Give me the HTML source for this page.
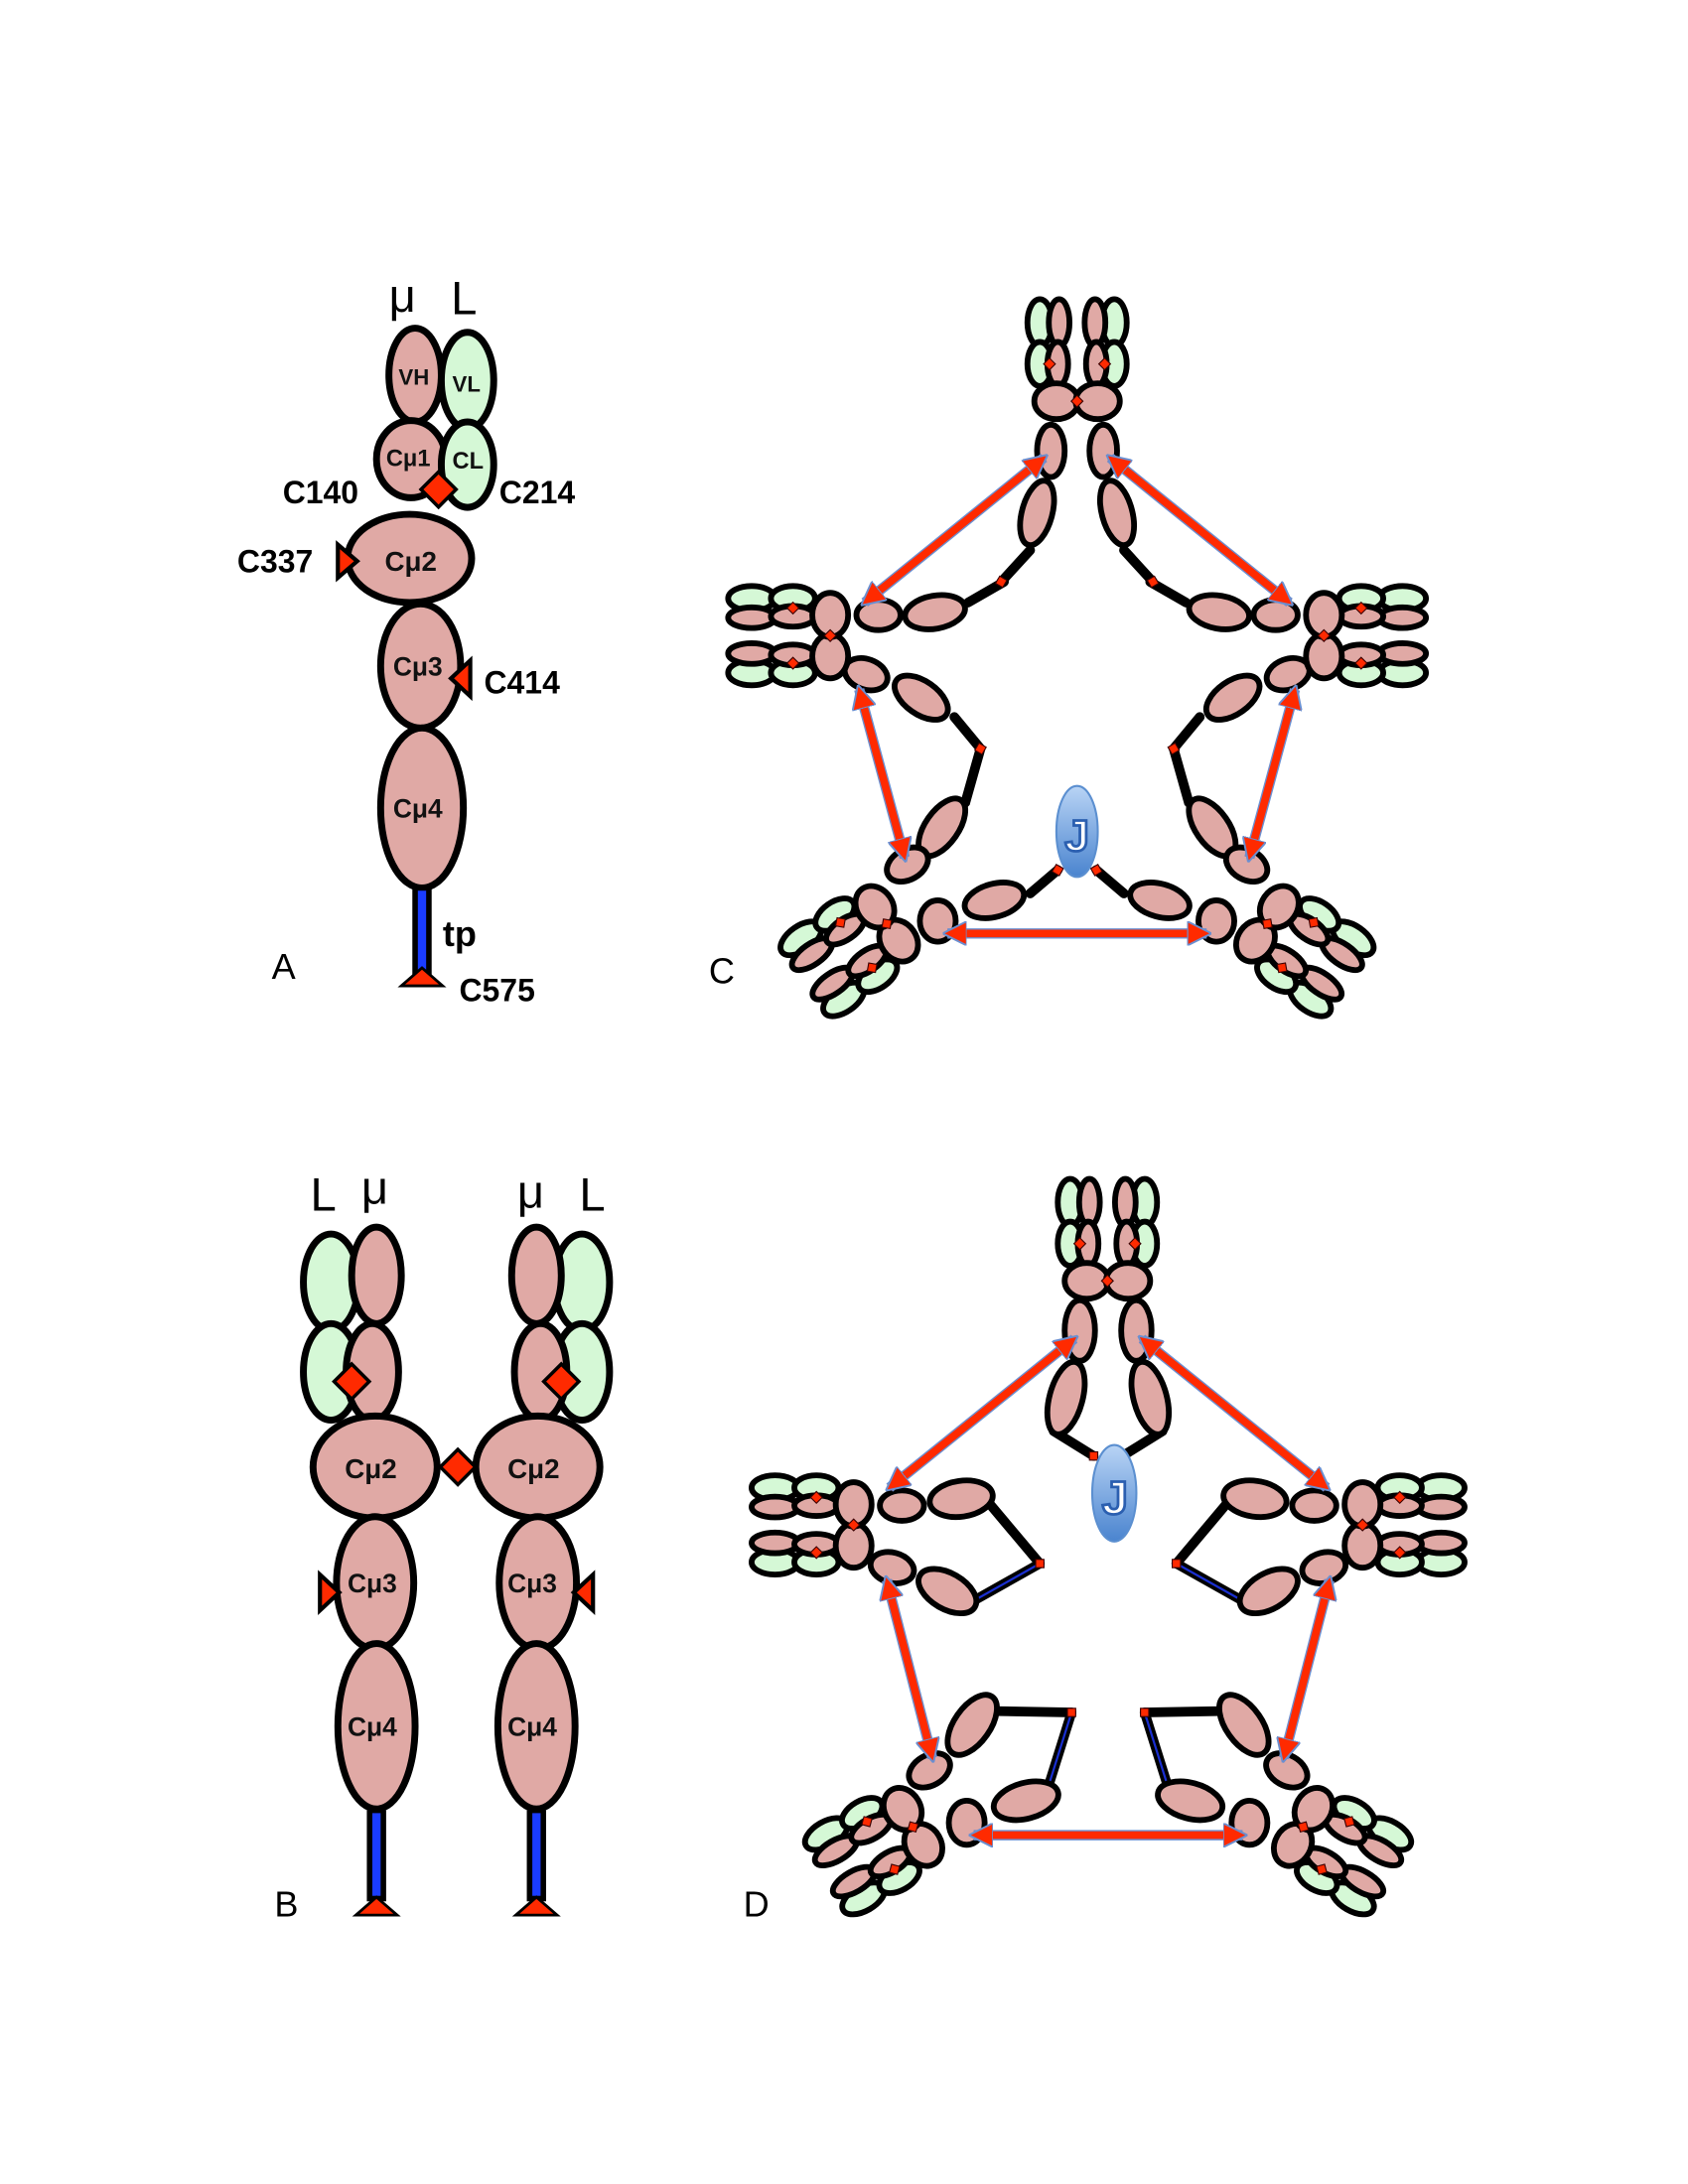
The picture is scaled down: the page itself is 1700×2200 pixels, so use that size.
<!DOCTYPE html>
<html><head><meta charset="utf-8"><style>
html,body{margin:0;padding:0;background:#fff}
svg{display:block}
.p{fill:#e0a9a5;stroke:#000;stroke-width:5}
.g{fill:#d5f8d6;stroke:#000;stroke-width:5}
.q{fill:#e0a9a5;stroke:#000;stroke-width:4.2}
.h{fill:#d5f8d6;stroke:#000;stroke-width:4.2}
.t{stroke:#000;stroke-width:7;fill:none;stroke-linecap:round}
.b{stroke:#1a2fd0;stroke-width:1.6;fill:none}
.r{fill:#ff2a00;stroke:#3a0000;stroke-width:0.8}
.lab{font-family:"Liberation Sans",sans-serif;font-weight:bold;font-size:23px;fill:#000}
.big{font-family:"Liberation Sans",sans-serif;font-size:34px;fill:#000}
.pl{font-family:"Liberation Sans",sans-serif;font-size:26px;fill:#000}
.dom{font-family:"Liberation Sans",sans-serif;font-weight:bold;font-size:18px;fill:#111}
.arw{stroke:#ff2a00;stroke-width:5.5;fill:none}
.arb{stroke:#6b8fd0;stroke-width:7.5;fill:none}
</style></head><body>
<svg width="1700" height="2200" viewBox="0 0 1224 1584" xmlns="http://www.w3.org/2000/svg">
<defs>
<linearGradient id="jg" x1="0" y1="0" x2="0" y2="1">
<stop offset="0" stop-color="#b9d4f5"/><stop offset="1" stop-color="#4a84cf"/></linearGradient>
<marker id="ah" viewBox="0 0 10 10" refX="8" refY="5" markerWidth="3.2" markerHeight="3.2" orient="auto-start-reverse">
<path d="M0,0 L10,5 L0,10 z" fill="#ff2a00" stroke="#6b8fd0" stroke-width="0.8"/></marker>
<g id="vtx">
<ellipse class="h" cx="-27" cy="-57" rx="9" ry="17"/>
<ellipse class="q" cx="-13" cy="-57" rx="7.5" ry="17"/>
<ellipse class="h" cx="-27" cy="-27" rx="9" ry="16"/>
<ellipse class="q" cx="-14" cy="-27" rx="7.5" ry="16"/>
<rect class="r" x="-23" y="-30" width="6" height="6" transform="rotate(45 -20 -27)"/>
<ellipse class="h" cx="27" cy="-57" rx="9" ry="17"/>
<ellipse class="q" cx="13" cy="-57" rx="7.5" ry="17"/>
<ellipse class="h" cx="27" cy="-27" rx="9" ry="16"/>
<ellipse class="q" cx="14" cy="-27" rx="7.5" ry="16"/>
<rect class="r" x="17" y="-30" width="6" height="6" transform="rotate(45 20 -27)"/>
<ellipse class="q" cx="-15" cy="0" rx="16" ry="13"/>
<ellipse class="q" cx="15" cy="0" rx="16" ry="13"/>
<rect class="r" x="-3" y="-3" width="6" height="6" transform="rotate(45 0 0)"/>
</g>
</defs>

<!-- Panel A -->
<text class="big" x="282" y="226">μ</text>
<text class="big" x="327" y="228">L</text>
<ellipse class="p" cx="301" cy="272" rx="19" ry="34"/>
<ellipse class="g" cx="339" cy="276" rx="19" ry="35"/>
<text class="dom" x="289" y="279" style="font-size:16px">VH</text>
<text class="dom" x="328" y="284" style="font-size:16px">VL</text>
<ellipse class="p" cx="298" cy="333" rx="25" ry="28"/>
<ellipse class="g" cx="339" cy="337" rx="19" ry="31"/>
<text class="dom" x="280" y="338" style="font-size:17px">Cμ1</text>
<text class="dom" x="328" y="340" style="font-size:17px">CL</text>
<rect x="309" y="346" width="18" height="18" fill="#ff2a00" stroke="#000" stroke-width="2.5" transform="rotate(45 318 355)"/>
<text class="lab" x="205" y="365">C140</text>
<text class="lab" x="362" y="365">C214</text>
<ellipse class="p" cx="297" cy="405" rx="45" ry="32"/>
<text class="dom" x="279" y="414" style="font-size:20px">Cμ2</text>
<polygon points="245,395 259,407 245,419" fill="#ff2a00" stroke="#000" stroke-width="3"/>
<text class="lab" x="172" y="415">C337</text>
<ellipse class="p" cx="305" cy="483" rx="29" ry="45"/>
<text class="dom" x="285" y="490" style="font-size:19px">Cμ3</text>
<polygon points="341,479 327,492 341,505" fill="#ff2a00" stroke="#000" stroke-width="3"/>
<text class="lab" x="351" y="503">C414</text>
<ellipse class="p" cx="306" cy="586" rx="30" ry="58"/>
<text class="dom" x="285" y="593" style="font-size:19px">Cμ4</text>
<rect x="299" y="644" width="14" height="64" fill="#000"/>
<rect x="303" y="646" width="6" height="58" fill="#1a3cff"/>
<polygon points="291,715 306,702 321,715" fill="#ff2a00" stroke="#000" stroke-width="2"/>
<text class="lab" x="321" y="686" style="font-size:26px">tp</text>
<text class="lab" x="333" y="726">C575</text>
<text class="pl" x="197" y="710">A</text>

<!-- Panel B -->
<text class="big" x="225" y="878">L</text>
<text class="big" x="262" y="873">μ</text>
<text class="big" x="375" y="876">μ</text>
<text class="big" x="420" y="878">L</text>
<g id="bl">
<ellipse class="g" cx="240" cy="930" rx="20" ry="35"/>
<ellipse class="p" cx="273" cy="925" rx="18" ry="35"/>
<ellipse class="g" cx="240" cy="995" rx="20" ry="35"/>
<ellipse class="p" cx="270" cy="995" rx="19" ry="35"/>
<rect x="246" y="993" width="18" height="18" fill="#ff2a00" stroke="#000" stroke-width="2.5" transform="rotate(45 255 1002)"/>
<ellipse class="p" cx="272" cy="1064" rx="45" ry="37"/>
<ellipse class="p" cx="272" cy="1148" rx="28" ry="48"/>
<polygon points="232,1142 246,1155 232,1168" fill="#ff2a00" stroke="#000" stroke-width="3"/>
<ellipse class="p" cx="273" cy="1252" rx="28" ry="60"/>
<rect x="266" y="1313" width="14" height="66" fill="#000"/>
<rect x="270" y="1315" width="6" height="60" fill="#1a3cff"/>
<polygon points="258,1389 273,1376 288,1389" fill="#ff2a00" stroke="#000" stroke-width="2"/>
</g>
<use href="#bl" transform="translate(662,0) scale(-1,1)"/>
<rect x="323" y="1055" width="18" height="18" fill="#ff2a00" stroke="#000" stroke-width="2.5" transform="rotate(45 332 1064)"/>
<text class="dom" x="250" y="1072" style="font-size:20px">Cμ2</text>
<text class="dom" x="368" y="1072" style="font-size:20px">Cμ2</text>
<text class="dom" x="252" y="1155" style="font-size:19px">Cμ3</text>
<text class="dom" x="368" y="1155" style="font-size:19px">Cμ3</text>
<text class="dom" x="252" y="1259" style="font-size:19px">Cμ4</text>
<text class="dom" x="368" y="1259" style="font-size:19px">Cμ4</text>
<text class="pl" x="199" y="1390">B</text>

<!-- Panel C -->
<g id="cL">
<line class="t" x1="747" y1="399" x2="726" y2="422"/>
<line class="t" x1="702" y1="437" x2="728" y2="422"/>
<polyline class="t" points="692,520 711,543 700,582 690,592"/>
<line class="t" x1="747" y1="648" x2="767" y2="631"/>
<ellipse class="q" cx="762" cy="327" rx="10" ry="19"/>
<ellipse class="q" cx="752" cy="372" rx="11" ry="24" transform="rotate(15 752 372)"/>
<ellipse class="q" cx="637" cy="446" rx="16" ry="11"/>
<ellipse class="q" cx="678" cy="444" rx="22" ry="12" transform="rotate(-10 678 444)"/>
<ellipse class="q" cx="628" cy="489" rx="16" ry="11" transform="rotate(20 628 489)"/>
<ellipse class="q" cx="668" cy="506" rx="22" ry="12" transform="rotate(35 668 506)"/>
<ellipse class="q" cx="683" cy="600" rx="12" ry="24" transform="rotate(35 683 600)"/>
<ellipse class="q" cx="658" cy="627" rx="16" ry="11" transform="rotate(-30 658 627)"/>
<ellipse class="q" cx="721" cy="653" rx="22" ry="12" transform="rotate(-15 721 653)"/>
<ellipse class="q" cx="680" cy="668" rx="13" ry="15"/>
<use href="#vtx" transform="translate(602,461) rotate(-90)"/>
<use href="#vtx" transform="translate(643,670) rotate(-125)"/>
<rect class="r" x="723" y="419" width="6" height="6" transform="rotate(30 726 422)"/>
<rect class="r" x="708" y="540" width="6" height="6" transform="rotate(30 711 543)"/>
<rect class="r" x="764" y="628" width="6" height="6" transform="rotate(30 767 631)"/>
<line class="arb" x1="757" y1="332" x2="627" y2="437"/>
<line class="arw" x1="757" y1="332" x2="627" y2="437" marker-start="url(#ah)" marker-end="url(#ah)"/>
<line class="arb" x1="623" y1="500" x2="656" y2="622"/>
<line class="arw" x1="623" y1="500" x2="656" y2="622" marker-start="url(#ah)" marker-end="url(#ah)"/>
</g>
<use href="#cL" transform="translate(1562,0) scale(-1,1)"/>
<use href="#vtx" transform="translate(781,291)"/>
<line class="arb" x1="687" y1="677" x2="875" y2="677"/>
<line class="arw" x1="687" y1="677" x2="875" y2="677" marker-start="url(#ah)" marker-end="url(#ah)"/>
<ellipse cx="781" cy="603" rx="15" ry="33" fill="url(#jg)" stroke="#5b8fd0" stroke-width="1.5"/>
<text x="772" y="617" style="font-family:'Liberation Sans',sans-serif;font-weight:bold;font-size:32px;fill:#fff;stroke:#2b5fb0;stroke-width:2">J</text>
<text class="pl" x="514" y="713">C</text>

<!-- Panel D -->
<g id="dL">
<line class="t" x1="764" y1="1038" x2="793" y2="1056"/>
<line class="t" x1="717" y1="1090" x2="754" y2="1134"/>
<line class="t" x1="754" y1="1134" x2="706" y2="1161"/>
<line class="b" x1="754" y1="1134" x2="706" y2="1161"/>
<line class="t" x1="721" y1="1241" x2="777" y2="1242"/>
<line class="t" x1="777" y1="1242" x2="761" y2="1293"/>
<line class="b" x1="777" y1="1242" x2="761" y2="1293"/>
<ellipse class="q" cx="783" cy="965" rx="11" ry="22"/>
<ellipse class="q" cx="773" cy="1014" rx="12" ry="27" transform="rotate(15 773 1014)"/>
<ellipse class="q" cx="654" cy="1092" rx="16" ry="11"/>
<ellipse class="q" cx="697" cy="1087" rx="23" ry="13" transform="rotate(-8 697 1087)"/>
<ellipse class="q" cx="647" cy="1137" rx="16" ry="11" transform="rotate(15 647 1137)"/>
<ellipse class="q" cx="687" cy="1154" rx="23" ry="13" transform="rotate(30 687 1154)"/>
<ellipse class="q" cx="705" cy="1251" rx="13" ry="25" transform="rotate(35 705 1251)"/>
<ellipse class="q" cx="674" cy="1284" rx="16" ry="11" transform="rotate(-30 674 1284)"/>
<ellipse class="q" cx="744" cy="1306" rx="24" ry="13" transform="rotate(-15 744 1306)"/>
<ellipse class="q" cx="701" cy="1322" rx="13" ry="16"/>
<use href="#vtx" transform="translate(619,1106) rotate(-90)"/>
<use href="#vtx" transform="translate(662,1325) rotate(-120)"/>
<rect class="r" x="790" y="1053" width="6" height="6"/>
<rect class="r" x="751" y="1131" width="6" height="6"/>
<rect class="r" x="774" y="1239" width="6" height="6"/>
<line class="arb" x1="779" y1="971" x2="645" y2="1079"/>
<line class="arw" x1="779" y1="971" x2="645" y2="1079" marker-start="url(#ah)" marker-end="url(#ah)"/>
<line class="arb" x1="643" y1="1146" x2="676" y2="1275"/>
<line class="arw" x1="643" y1="1146" x2="676" y2="1275" marker-start="url(#ah)" marker-end="url(#ah)"/>
</g>
<use href="#dL" transform="translate(1607,0) scale(-1,1)"/>
<use href="#vtx" transform="translate(803,929)"/>
<line class="arb" x1="706" y1="1331" x2="901" y2="1331"/>
<line class="arw" x1="706" y1="1331" x2="901" y2="1331" marker-start="url(#ah)" marker-end="url(#ah)"/>
<ellipse cx="808" cy="1083" rx="16" ry="35" fill="url(#jg)" stroke="#5b8fd0" stroke-width="1.5"/>
<text x="799" y="1098" style="font-family:'Liberation Sans',sans-serif;font-weight:bold;font-size:34px;fill:#fff;stroke:#2b5fb0;stroke-width:2">J</text>
<text class="pl" x="539" y="1390">D</text>
</svg>
</body></html>
